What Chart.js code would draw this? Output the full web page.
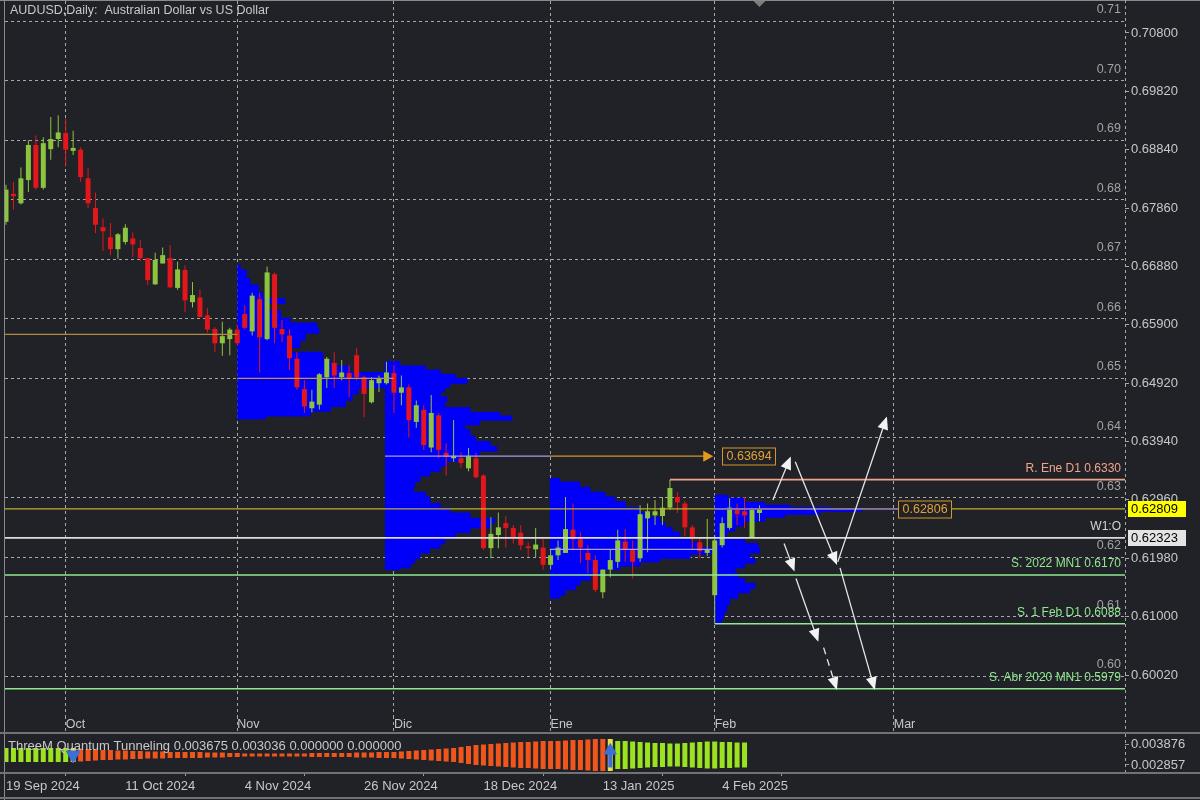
<!DOCTYPE html>
<html>
<head>
<meta charset="utf-8">
<title>AUDUSD Daily</title>
<script src="https://cdn.jsdelivr.net/npm/chart.js@4.4.1/dist/chart.umd.min.js"></script>
<style>
  html, body { margin:0; padding:0; background:#202227; width:1200px; height:800px; overflow:hidden; }
  canvas { position:absolute; left:0; display:block; }
  #mainChart { top:0; }
  #qtChart { top:734px; }
</style>
</head>
<body>
<canvas id="mainChart" width="1200" height="734"></canvas>
<canvas id="qtChart" width="1200" height="66"></canvas>
<script>
// ======================= DATA =======================
const symbolTitle = 'AUDUSD,Daily:  Australian Dollar vs US Dollar';

// Daily candles, 19 Sep 2024 (index 0) .. 11 Feb 2025 (index 101)
const candleOpen = [
 0.6763, 0.6810, 0.6794, 0.6833, 0.6892, 0.6820, 0.6885, 0.6902, 0.6912, 0.6882,
 0.6884, 0.6836, 0.6786, 0.6754, 0.6737, 0.6717, 0.6729, 0.6735, 0.6719, 0.6702,
 0.6658, 0.6693, 0.6702, 0.6652, 0.6682, 0.6628, 0.6636, 0.6606, 0.6583, 0.6559,
 0.6566, 0.6582, 0.6608, 0.6579, 0.6633, 0.6566, 0.6675, 0.6583, 0.6572, 0.6533,
 0.6482, 0.6450, 0.6456, 0.6502, 0.6526, 0.6502, 0.6509, 0.6539, 0.6502, 0.6460,
 0.6492, 0.6492, 0.6509, 0.6476, 0.6485, 0.6427, 0.6447, 0.6384, 0.6438, 0.6375,
 0.6366, 0.6366, 0.6349, 0.6366, 0.6337, 0.6215, 0.6237, 0.6257, 0.6249, 0.6241,
 0.6218, 0.6213, 0.6216, 0.6187, 0.6203, 0.6207, 0.6246, 0.6230, 0.6207, 0.6195,
 0.6141, 0.6179, 0.6192, 0.6226, 0.6213, 0.6198, 0.6265, 0.6270, 0.6269, 0.6283,
 0.6301, 0.6290, 0.6250, 0.6225, 0.6207, 0.6136, 0.6220, 0.6249, 0.6279, 0.6277,
 0.62323, 0.6274];
const candleHigh = [
 0.6825, 0.6830, 0.6854, 0.6900, 0.6908, 0.6905, 0.6939, 0.6942, 0.6936, 0.6916,
 0.6888, 0.6853, 0.6812, 0.6769, 0.6761, 0.6744, 0.6759, 0.6745, 0.6732, 0.6702,
 0.6711, 0.6720, 0.6724, 0.6696, 0.6690, 0.6662, 0.6649, 0.6618, 0.6586, 0.6595,
 0.6585, 0.6590, 0.6623, 0.6644, 0.6644, 0.6688, 0.6678, 0.6598, 0.6582, 0.6544,
 0.6497, 0.6481, 0.6509, 0.6536, 0.6544, 0.6531, 0.6522, 0.6551, 0.6505, 0.6502,
 0.6505, 0.6528, 0.6522, 0.6505, 0.6490, 0.6463, 0.6455, 0.6472, 0.6442, 0.6391,
 0.6430, 0.6376, 0.6383, 0.6375, 0.6339, 0.6267, 0.6275, 0.6269, 0.6254, 0.6254,
 0.6225, 0.6249, 0.6231, 0.6212, 0.6228, 0.6301, 0.6290, 0.6242, 0.6220, 0.6203,
 0.6179, 0.6212, 0.6246, 0.6247, 0.6228, 0.6287, 0.6290, 0.6296, 0.6301, 0.6330,
 0.6309, 0.6294, 0.6254, 0.6233, 0.6264, 0.6237, 0.6267, 0.6299, 0.6290, 0.6301,
 0.6283, 0.6287];
const candleLow = [
 0.6758, 0.6783, 0.6792, 0.6813, 0.6817, 0.6817, 0.6867, 0.6888, 0.6856, 0.6875,
 0.6830, 0.6786, 0.6744, 0.6714, 0.6707, 0.6701, 0.6725, 0.6704, 0.6697, 0.6657,
 0.6657, 0.6693, 0.6652, 0.6649, 0.6611, 0.6619, 0.6603, 0.6577, 0.6544, 0.6538,
 0.6539, 0.6556, 0.6582, 0.6572, 0.6510, 0.6564, 0.6559, 0.6561, 0.6514, 0.6481,
 0.6442, 0.6443, 0.6448, 0.6484, 0.6484, 0.6497, 0.6469, 0.6497, 0.6435, 0.6458,
 0.6477, 0.6490, 0.6442, 0.6455, 0.6401, 0.6417, 0.6380, 0.6376, 0.6366, 0.6337,
 0.6360, 0.6350, 0.6344, 0.6332, 0.6212, 0.6198, 0.6215, 0.6216, 0.6223, 0.6212,
 0.6200, 0.6200, 0.6179, 0.6179, 0.6195, 0.6207, 0.6212, 0.6190, 0.6173, 0.6141,
 0.6131, 0.6166, 0.6182, 0.6192, 0.6164, 0.6192, 0.6208, 0.6254, 0.6254, 0.6279,
 0.6274, 0.6235, 0.6212, 0.6198, 0.6202, 0.6088, 0.6216, 0.6246, 0.6254, 0.6249,
 0.6232, 0.6260];
const candleClose = [
 0.6817, 0.6806, 0.6836, 0.6892, 0.6820, 0.6895, 0.6902, 0.6913, 0.6884, 0.6887,
 0.6838, 0.6794, 0.6758, 0.6747, 0.6717, 0.6742, 0.6753, 0.6725, 0.6702, 0.6665,
 0.6699, 0.6707, 0.6653, 0.6683, 0.6631, 0.6640, 0.6603, 0.6582, 0.6559, 0.6571,
 0.6582, 0.6559, 0.6585, 0.6639, 0.6569, 0.6678, 0.6585, 0.6574, 0.6534, 0.6485,
 0.6453, 0.6461, 0.6507, 0.6533, 0.6505, 0.6510, 0.6500, 0.6502, 0.6474, 0.6497,
 0.6500, 0.6510, 0.6476, 0.6485, 0.6430, 0.6455, 0.6388, 0.6442, 0.6380, 0.6368,
 0.6370, 0.6358, 0.6370, 0.6334, 0.6215, 0.6239, 0.6250, 0.6249, 0.6233, 0.6220,
 0.6215, 0.6221, 0.6187, 0.6203, 0.6216, 0.6247, 0.6230, 0.6216, 0.6195, 0.6145,
 0.6179, 0.6195, 0.6228, 0.6212, 0.6192, 0.6272, 0.6277, 0.6277, 0.6283, 0.6316,
 0.6292, 0.6250, 0.6231, 0.6210, 0.6212, 0.6228, 0.6257, 0.6283, 0.6272, 0.6270,
 0.6279, 0.62809];

// Price axis ticks and month / date axis ticks (bar index)
const priceTicks = [0.60020, 0.61000, 0.61980, 0.62960, 0.63940, 0.64920, 0.65900, 0.66880, 0.67860, 0.68840, 0.69820, 0.70800];
const monthTickIdx = [8, 31, 52, 73, 95, 119];
const monthTickLabels = ['Oct', 'Nov', 'Dic', 'Ene', 'Feb', 'Mar'];
const dateTickIdx = [0, 16, 32, 48, 64, 80, 96];
const dateTickLabels = ['19 Sep 2024', '11 Oct 2024', '4 Nov 2024', '26 Nov 2024', '18 Dec 2024', '13 Jan 2025', '4 Feb 2025'];

// Round number levels (dashed grid + labels)
const roundLevels = [0.71, 0.70, 0.69, 0.68, 0.67, 0.66, 0.65, 0.64, 0.63, 0.62, 0.61, 0.60];

// Support / resistance levels
const levelPrices = [0.6330, 0.6170, 0.6088, 0.5979];
const levelLabels = ['R. Ene D1 0.6330', 'S. 2022 MN1 0.6170', 'S. 1 Feb D1 0.6088', 'S. Abr 2020 MN1 0.5979'];
const levelStartIdx = [89, -1, 95, -1];

const bidPrice = 0.62809;
const weekOpenPrice = 0.62323;
const weekOpenLabel = 'W1:O';

// Volume profiles: start bar index, price rows and volume (in bar widths)
const profileStartIdx = [31, 50.8, 72.9, 95];
const profNovPrices = [0.6690, 0.6682, 0.6668, 0.6657, 0.6645, 0.6634, 0.6626, 0.6614, 0.6601, 0.6593, 0.6585, 0.6576, 0.6564, 0.6552, 0.6544, 0.6531, 0.6521, 0.6510, 0.6500, 0.6492, 0.6484, 0.6474, 0.6463, 0.6453, 0.6445, 0.6437, 0.6432];
const profNovVolume = [0.4, 1.2, 1.7, 2.8, 3.4, 6.4, 4.2, 5.8, 7.1, 10.6, 10.9, 9.1, 8.4, 7.1, 11.4, 12.5, 15.1, 21.8, 30.8, 24.5, 16.2, 15.4, 14.5, 12.5, 9.8, 3.8, 1.1];
const profDecPrices = [0.6528, 0.6521, 0.6514, 0.6507, 0.6500, 0.6494, 0.6485, 0.6477, 0.6469, 0.6460, 0.6451, 0.6443, 0.6437, 0.6430, 0.6422, 0.6414, 0.6403, 0.6394, 0.6386, 0.6378, 0.6370, 0.6361, 0.6353, 0.6344, 0.6336, 0.6327, 0.6317, 0.6309, 0.6301, 0.6290, 0.6282, 0.6274, 0.6265, 0.6257, 0.6249, 0.6241, 0.6231, 0.6223, 0.6215, 0.6207, 0.6198, 0.6190, 0.6182, 0.6179];
const profDecVolume = [2.0, 5.4, 7.4, 9.4, 10.9, 8.7, 8.0, 7.4, 8.3, 8.0, 11.4, 15.4, 17.0, 12.7, 10.7, 11.4, 12.1, 14.1, 15.0, 12.7, 10.1, 8.3, 7.4, 6.0, 4.7, 4.0, 3.8, 5.4, 6.0, 7.4, 8.7, 11.4, 14.7, 14.1, 11.4, 9.4, 8.0, 7.4, 6.0, 4.7, 4.0, 3.4, 2.0, 0.7];
const profJanPrices = [0.6332, 0.6326, 0.6317, 0.6309, 0.6301, 0.6293, 0.6283, 0.6275, 0.6267, 0.6259, 0.6250, 0.6242, 0.6233, 0.6225, 0.6216, 0.6211, 0.6205, 0.6198, 0.6192, 0.6185, 0.6179, 0.6169, 0.6161, 0.6153, 0.6145, 0.6136, 0.6131];
const profJanVolume = [1.3, 4.0, 5.4, 7.4, 8.7, 10.1, 12.1, 13.4, 14.7, 15.4, 16.4, 17.4, 18.8, 20.1, 21.4, 21.7, 18.8, 14.7, 12.1, 9.4, 6.7, 5.4, 4.0, 3.4, 2.0, 1.3, 0.3];
const profFebPrices = [0.6304, 0.6299, 0.6292, 0.6287, 0.6283, 0.6280, 0.6277, 0.6272, 0.6267, 0.6260, 0.6252, 0.6244, 0.6237, 0.6230, 0.6223, 0.6215, 0.6207, 0.6198, 0.6190, 0.6182, 0.6173, 0.6164, 0.6156, 0.6148, 0.6140, 0.6131, 0.6120, 0.6107, 0.6097, 0.6088];
const profFebVolume = [1.7, 4.0, 6.7, 10.1, 15.4, 19.7, 14.1, 9.4, 6.7, 4.0, 2.7, 1.7, 1.5, 4.0, 5.8, 6.0, 4.7, 5.4, 4.0, 2.7, 3.1, 4.0, 5.4, 4.7, 3.1, 2.0, 1.6, 1.2, 0.9, 0.1];

// Point-of-control line segments
const pocPrices = [0.6574, 0.6500, 0.63694, 0.63694, 0.6213, 0.62806];
const pocStartIdx = [-1, 31, 50.8, 72.9, 72.9, 95];
const pocEndIdx = [31, 52, 72.9, 94, 95, 119.6];
const pocBoxPrices = [0.63694, 0.62806];
const pocBoxIdx = [96, 119.6];

// Scenario arrows (bar index / price)
const arrowFromIdx = [102.8, 105.8, 111.5, 104.3, 105.9, 109.6, 111.8];
const arrowFromPrice = [0.6296, 0.6360, 0.6192, 0.6223, 0.6164, 0.6048, 0.6182];
const arrowToIdx = [105.1, 111.3, 118.0, 105.6, 108.8, 111.3, 116.4];
const arrowToPrice = [0.6366, 0.6190, 0.6433, 0.6179, 0.6061, 0.5980, 0.5980];

// Indicator: ThreeM Quantum Tunneling
const qtTitle = 'ThreeM Quantum Tunneling 0.003675 0.003036 0.000000 0.000000';
const qtCenter = 0.003342;
const qtAmp = [
 0.000340, 0.000340, 0.000340, 0.000340, 0.000340, 0.000340, 0.000340, 0.000340, 0.000340, 0.000340,
 0.000315, 0.000291, 0.000267, 0.000243, 0.000243, 0.000218, 0.000218, 0.000194, 0.000194, 0.000170,
 0.000170, 0.000170, 0.000146, 0.000146, 0.000146, 0.000146, 0.000146, 0.000121, 0.000121, 0.000121,
 0.000097, 0.000097, 0.000073, 0.000073, 0.000073, 0.000073, 0.000073, 0.000073, 0.000073, 0.000073,
 0.000073, 0.000097, 0.000097, 0.000097, 0.000097, 0.000097, 0.000097, 0.000121, 0.000121, 0.000121,
 0.000146, 0.000146, 0.000146, 0.000170, 0.000194, 0.000218, 0.000243, 0.000267, 0.000291, 0.000315,
 0.000340, 0.000388, 0.000437, 0.000485, 0.000509, 0.000534, 0.000558, 0.000582, 0.000606, 0.000631,
 0.000631, 0.000655, 0.000679, 0.000679, 0.000679, 0.000703, 0.000728, 0.000728, 0.000752, 0.000776,
 0.000776, 0.000776, 0.000679, 0.000679, 0.000655, 0.000631, 0.000606, 0.000582, 0.000582, 0.000558,
 0.000558, 0.000582, 0.000606, 0.000631, 0.000655, 0.000655, 0.000631, 0.000631, 0.000606, 0.000606];
const qtDownSignals = [9];
const qtUpSignals = [81];
const qtTicks = [0.003876, 0.002857];

// ======================= STYLE / LAYOUT =======================
const BG = '#202227';
const FONT = "'Liberation Sans', Arial, sans-serif";
const TXT = '#c8c8c8';
const GRID = 'rgba(205,205,205,0.78)';
const BULL = '#8cc43f';
const BEAR = '#e3161b';
const PROFILE_BLUE = '#0000f8';
const POC_COLORS = ['#b08a40', '#c49240', '#a99ce0', '#d49528', '#aaa0dc', '#7a64e0'];
const LEVEL_COLORS = ['#f0a38a', '#90e890', '#90e890', '#90e890'];
const BID_COLOR = '#bfae2e';
const WEEK_COLOR = '#dcdcdc';
const ARROW_COLOR = '#e6e6e6';
const ARROW_DASHED = [false, false, false, false, false, true, false];
const QT_GREEN = '#9be21f';
const QT_ORANGE = '#f0561c';
const QT_SIGNAL = '#e9e24a';
const QT_MARK = '#3d6fd6';

const X_MIN = -0.134, X_MAX = 150.0;
const Y_MIN = 0.59332, Y_MAX = 0.71337;
const QT_MIN = 0.002517, QT_MAX = 0.004313;

Chart.defaults.font.family = FONT;
Chart.defaults.font.size = 13;
Chart.defaults.color = TXT;

// ======================= MAIN CHART =======================
const barIdx = candleOpen.map((_, i) => i);
const candleColors = barIdx.map(i => candleClose[i] >= candleOpen[i] ? BULL : BEAR);

function hline(price, x0, x1, color, width, dash, order) {
  return { type: 'line', data: [{x: x0, y: price}, {x: x1, y: price}], borderColor: color,
           borderWidth: width, borderDash: dash, pointRadius: 0, fill: false, order: order };
}
function profileDataset(start, prices, vols) {
  const pts = [{x: start, y: prices[0]}];
  prices.forEach((p, i) => pts.push({x: start + vols[i], y: p}));
  pts.push({x: start, y: prices[prices.length - 1]});
  return { type: 'line', indexAxis: 'y', data: pts, fill: {value: start}, backgroundColor: PROFILE_BLUE,
           borderColor: PROFILE_BLUE, borderWidth: 1, pointRadius: 0, tension: 0, stepped: 'after', order: 20 };
}

const datasets = [];
[[profNovPrices, profNovVolume], [profDecPrices, profDecVolume], [profJanPrices, profJanVolume], [profFebPrices, profFebVolume]]
  .forEach((pr, k) => datasets.push(profileDataset(profileStartIdx[k], pr[0], pr[1])));

datasets.push({ type: 'bar', order: 11, grouped: false, barThickness: 1, inflateAmount: 0, minBarLength: 1,
  data: barIdx.map(i => ({x: i, y: [candleLow[i], candleHigh[i]]})), backgroundColor: candleColors, borderWidth: 0 });
datasets.push({ type: 'bar', order: 10, grouped: false, barThickness: 5, inflateAmount: 0, minBarLength: 1,
  data: barIdx.map(i => ({x: i, y: [candleOpen[i], candleClose[i]]})), backgroundColor: candleColors, borderWidth: 0 });

levelPrices.forEach((p, i) => datasets.push(hline(p, levelStartIdx[i], X_MAX + 2, LEVEL_COLORS[i], 1.6, [], 4)));
datasets.push(hline(bidPrice, -1, X_MAX + 2, BID_COLOR, 1.2, [], 3));
datasets.push(hline(weekOpenPrice, -1, X_MAX + 2, WEEK_COLOR, 1.6, [], 3));
pocPrices.forEach((p, i) => datasets.push(hline(p, pocStartIdx[i], pocEndIdx[i], POC_COLORS[i], 1.3, [], 2)));

const arrowDsStart = datasets.length;
arrowFromIdx.forEach((x0, i) => datasets.push({
  type: 'line', order: 0, pointRadius: 0, fill: false, borderColor: ARROW_COLOR, borderWidth: 1.3,
  borderDash: ARROW_DASHED[i] ? [7, 5] : [],
  data: [{x: x0, y: arrowFromPrice[i]}, {x: arrowToIdx[i], y: arrowToPrice[i]}]
}));

const mainDecor = {
  id: 'mainDecor',
  beforeDraw(chart) {
    const {ctx, width, height} = chart;
    ctx.save(); ctx.fillStyle = BG; ctx.fillRect(0, 0, width, height); ctx.restore();
  },
  afterDatasetsDraw(chart) {
    const ctx = chart.ctx;
    ctx.save();
    for (let d = arrowDsStart; d < arrowDsStart + arrowFromIdx.length; d++) {
      const pts = chart.getDatasetMeta(d).data;
      const a = pts[0], b = pts[1];
      const ang = Math.atan2(b.y - a.y, b.x - a.x);
      ctx.save();
      ctx.translate(b.x, b.y); ctx.rotate(ang);
      ctx.beginPath(); ctx.moveTo(2, 0); ctx.lineTo(-11, -5.5); ctx.lineTo(-11, 5.5); ctx.closePath();
      ctx.fillStyle = '#f2f2f2'; ctx.fill();
      ctx.restore();
    }
    ctx.restore();
  },
  afterDraw(chart) {
    const {ctx, chartArea: ca, scales: {x, y}} = chart;
    ctx.save();
    // title
    ctx.font = '12.5px ' + FONT; ctx.fillStyle = TXT; ctx.textAlign = 'left'; ctx.textBaseline = 'middle';
    ctx.fillText(symbolTitle, 10, 11);
    // round level labels
    ctx.font = '12.5px ' + FONT;
    ctx.textAlign = 'right'; ctx.textBaseline = 'alphabetic'; ctx.fillStyle = '#a2a2a2';
    roundLevels.forEach(v => ctx.fillText(v.toFixed(2), ca.right - 4, y.getPixelForValue(v) - 8));
    // level labels
    ctx.font = '12px ' + FONT;
    levelPrices.forEach((v, i) => { ctx.fillStyle = LEVEL_COLORS[i]; ctx.fillText(levelLabels[i], ca.right - 4, y.getPixelForValue(v) - 8); });
    ctx.fillStyle = '#d4d4d4';
    ctx.fillText(weekOpenLabel, ca.right - 4, y.getPixelForValue(weekOpenPrice) - 8);
    // POC marker arrow (Dec profile) and price boxes
    const py0 = y.getPixelForValue(pocBoxPrices[0]);
    const ax = x.getPixelForValue(pocEndIdx[3]);
    ctx.fillStyle = '#e39a1c';
    ctx.beginPath(); ctx.moveTo(ax - 4, py0 - 5.5); ctx.lineTo(ax + 6, py0); ctx.lineTo(ax - 4, py0 + 5.5); ctx.closePath(); ctx.fill();
    ctx.font = '12.5px ' + FONT; ctx.textAlign = 'left'; ctx.textBaseline = 'middle';
    pocBoxPrices.forEach((v, i) => {
      const px = Math.round(x.getPixelForValue(pocBoxIdx[i])) + 0.5;
      const py = Math.round(y.getPixelForValue(v)) + 0.5;
      ctx.fillStyle = BG; ctx.fillRect(px, py - 8.5, 53, 17);
      ctx.strokeStyle = '#d4952a'; ctx.lineWidth = 1; ctx.strokeRect(px, py - 8.5, 53, 17);
      ctx.fillStyle = '#e2a234'; ctx.fillText(v.toFixed(5), px + 4, py + 0.5);
    });
    // axis price boxes
    ctx.font = '13px ' + FONT;
    const axisBox = (v, bg) => {
      const py = Math.round(y.getPixelForValue(v));
      ctx.fillStyle = bg; ctx.fillRect(ca.right + 3, py - 8, 58, 16);
      ctx.fillStyle = '#000'; ctx.fillText(v.toFixed(5), ca.right + 6, py + 0.5);
    };
    axisBox(bidPrice, '#ffff00');
    axisBox(weekOpenPrice, '#e4e4e4');
    // frame
    ctx.strokeStyle = '#8a8a8a'; ctx.lineWidth = 1;
    ctx.beginPath(); ctx.moveTo(4.5, 0); ctx.lineTo(4.5, 734); ctx.stroke();
    ctx.beginPath(); ctx.moveTo(0, 0.5); ctx.lineTo(1200, 0.5); ctx.stroke();
    ctx.setLineDash([3, 3]); ctx.strokeStyle = '#a8a8a8';
    ctx.beginPath(); ctx.moveTo(ca.right + 0.5, 0); ctx.lineTo(ca.right + 0.5, 732); ctx.stroke();
    ctx.setLineDash([]);
    ctx.fillStyle = '#727272'; ctx.fillRect(0, 732, 1200, 2);
    // chart-shift marker
    const sx = x.getPixelForValue(barIdx.length - 1);
    ctx.fillStyle = '#7c7c7c';
    ctx.beginPath(); ctx.moveTo(sx - 6, 1); ctx.lineTo(sx + 6, 1); ctx.lineTo(sx, 7); ctx.closePath(); ctx.fill();
    ctx.restore();
  }
};

new Chart(document.getElementById('mainChart'), {
  type: 'line',
  data: { datasets },
  options: {
    responsive: false, animation: false, events: [],
    layout: { autoPadding: false, padding: { left: 5, top: 1, right: 0, bottom: 0 } },
    plugins: { legend: { display: false }, tooltip: { enabled: false } },
    scales: {
      x: {
        type: 'linear', position: 'bottom', min: X_MIN, max: X_MAX, bounds: 'data', offset: false,
        afterBuildTicks: s => { s.ticks = monthTickIdx.map(v => ({ value: v })); },
        afterFit: s => { s.height = 18; s.paddingLeft = 0; s.paddingRight = 0; },
        grid: { color: GRID, lineWidth: 1, offset: false, drawTicks: true, tickLength: 17, tickColor: GRID, tickBorderDash: [3, 3] },
        border: { display: false, dash: [3, 3] },
        ticks: { align: 'start', padding: -16, autoSkip: false, maxRotation: 0, color: TXT, font: { size: 12.5 },
                 callback: (v, i) => monthTickLabels[i] }
      },
      yRound: {
        type: 'linear', position: 'left', min: Y_MIN, max: Y_MAX, bounds: 'data',
        afterBuildTicks: s => { s.ticks = roundLevels.map(v => ({ value: v })); },
        afterFit: s => { s.width = 0; s.paddingTop = 0; s.paddingBottom = 0; },
        grid: { color: GRID, lineWidth: 1, drawTicks: false },
        border: { display: false, dash: [3, 3] },
        ticks: { display: false }
      },
      y: {
        type: 'linear', position: 'right', min: Y_MIN, max: Y_MAX, bounds: 'data',
        afterBuildTicks: s => { s.ticks = priceTicks.map(v => ({ value: v })); },
        afterFit: s => { s.width = 75; s.paddingTop = 0; s.paddingBottom = 0; },
        grid: { drawOnChartArea: false, drawTicks: true, tickLength: 4, tickColor: '#a8a8a8' },
        border: { display: false },
        ticks: { padding: 2, autoSkip: false, color: TXT, callback: v => v.toFixed(5) }
      }
    }
  },
  plugins: [mainDecor]
});

// ======================= INDICATOR CHART =======================
const qtIdx = qtAmp.map((_, i) => i);
const qtColors = qtIdx.map(i => {
  if (qtDownSignals.includes(i) || qtUpSignals.includes(i)) return QT_SIGNAL;
  let state = 1, last = -1;
  qtDownSignals.forEach(s => { if (s <= i && s > last) { last = s; state = -1; } });
  qtUpSignals.forEach(s => { if (s <= i && s > last) { last = s; state = 1; } });
  return state > 0 ? QT_GREEN : QT_ORANGE;
});

const qtDecor = {
  id: 'qtDecor',
  beforeDraw(chart) {
    const {ctx, width, height} = chart;
    ctx.save(); ctx.fillStyle = BG; ctx.fillRect(0, 0, width, height); ctx.restore();
  },
  afterDatasetsDraw(chart) {
    // shaft of the "up" signal arrow
    const ctx = chart.ctx;
    ctx.save();
    ctx.fillStyle = QT_MARK;
    chart.getDatasetMeta(2).data.forEach(p => { ctx.fillRect(p.x - 2, p.y + 3, 4, 14); });
    ctx.restore();
  },
  afterDraw(chart) {
    const {ctx, chartArea: ca} = chart;
    ctx.save();
    ctx.font = '13px ' + FONT; ctx.fillStyle = TXT; ctx.textAlign = 'left'; ctx.textBaseline = 'middle';
    ctx.fillText(qtTitle, 8, 12);
    ctx.strokeStyle = '#8a8a8a'; ctx.lineWidth = 1;
    ctx.beginPath(); ctx.moveTo(4.5, 0); ctx.lineTo(4.5, 66); ctx.stroke();
    ctx.setLineDash([3, 3]); ctx.strokeStyle = '#a8a8a8';
    ctx.beginPath(); ctx.moveTo(ca.right + 0.5, 0); ctx.lineTo(ca.right + 0.5, ca.bottom); ctx.stroke();
    ctx.setLineDash([]);
    ctx.fillStyle = '#727272';
    ctx.fillRect(0, ca.bottom, 1200, 2);
    ctx.fillRect(0, 63, 1200, 2);
    ctx.restore();
  }
};

new Chart(document.getElementById('qtChart'), {
  type: 'line',
  data: {
    datasets: [
      { type: 'bar', order: 2, grouped: false, barThickness: 5, inflateAmount: 0, borderWidth: 0,
        data: qtIdx.map(i => ({ x: i, y: [qtCenter - qtAmp[i], qtCenter + qtAmp[i]] })), backgroundColor: qtColors },
      { type: 'line', order: 0, showLine: false, pointStyle: 'triangle', pointRotation: 180, pointRadius: 8,
        backgroundColor: QT_MARK, borderColor: QT_MARK,
        data: qtDownSignals.map(i => ({ x: i, y: qtCenter })) },
      { type: 'line', order: 0, showLine: false, pointStyle: 'triangle', pointRotation: 0, pointRadius: 7,
        backgroundColor: QT_MARK, borderColor: QT_MARK,
        data: qtUpSignals.map(i => ({ x: i, y: qtCenter + 0.00022 })) }
    ]
  },
  options: {
    responsive: false, animation: false, events: [],
    layout: { autoPadding: false, padding: { left: 5, top: 1, right: 0, bottom: 0 } },
    plugins: { legend: { display: false }, tooltip: { enabled: false } },
    scales: {
      x: {
        type: 'linear', position: 'bottom', min: X_MIN, max: X_MAX, bounds: 'data', offset: false,
        afterBuildTicks: s => { s.ticks = dateTickIdx.map(v => ({ value: v })); },
        afterFit: s => { s.height = 28; s.paddingLeft = 0; s.paddingRight = 0; },
        grid: { drawOnChartArea: false, drawTicks: true, tickLength: 4, tickColor: '#9a9a9a' },
        border: { display: false },
        ticks: { align: 'start', padding: 3, autoSkip: false, maxRotation: 0, color: TXT,
                 callback: (v, i) => dateTickLabels[i] }
      },
      y: {
        type: 'linear', position: 'right', min: QT_MIN, max: QT_MAX, bounds: 'data',
        afterBuildTicks: s => { s.ticks = qtTicks.map(v => ({ value: v })); },
        afterFit: s => { s.width = 75; s.paddingTop = 0; s.paddingBottom = 0; },
        grid: { drawOnChartArea: false, drawTicks: true, tickLength: 4, tickColor: '#9a9a9a' },
        border: { display: false },
        ticks: { padding: 2, autoSkip: false, color: TXT, callback: v => v.toFixed(6) }
      }
    }
  },
  plugins: [qtDecor]
});
</script>
</body>
</html>
